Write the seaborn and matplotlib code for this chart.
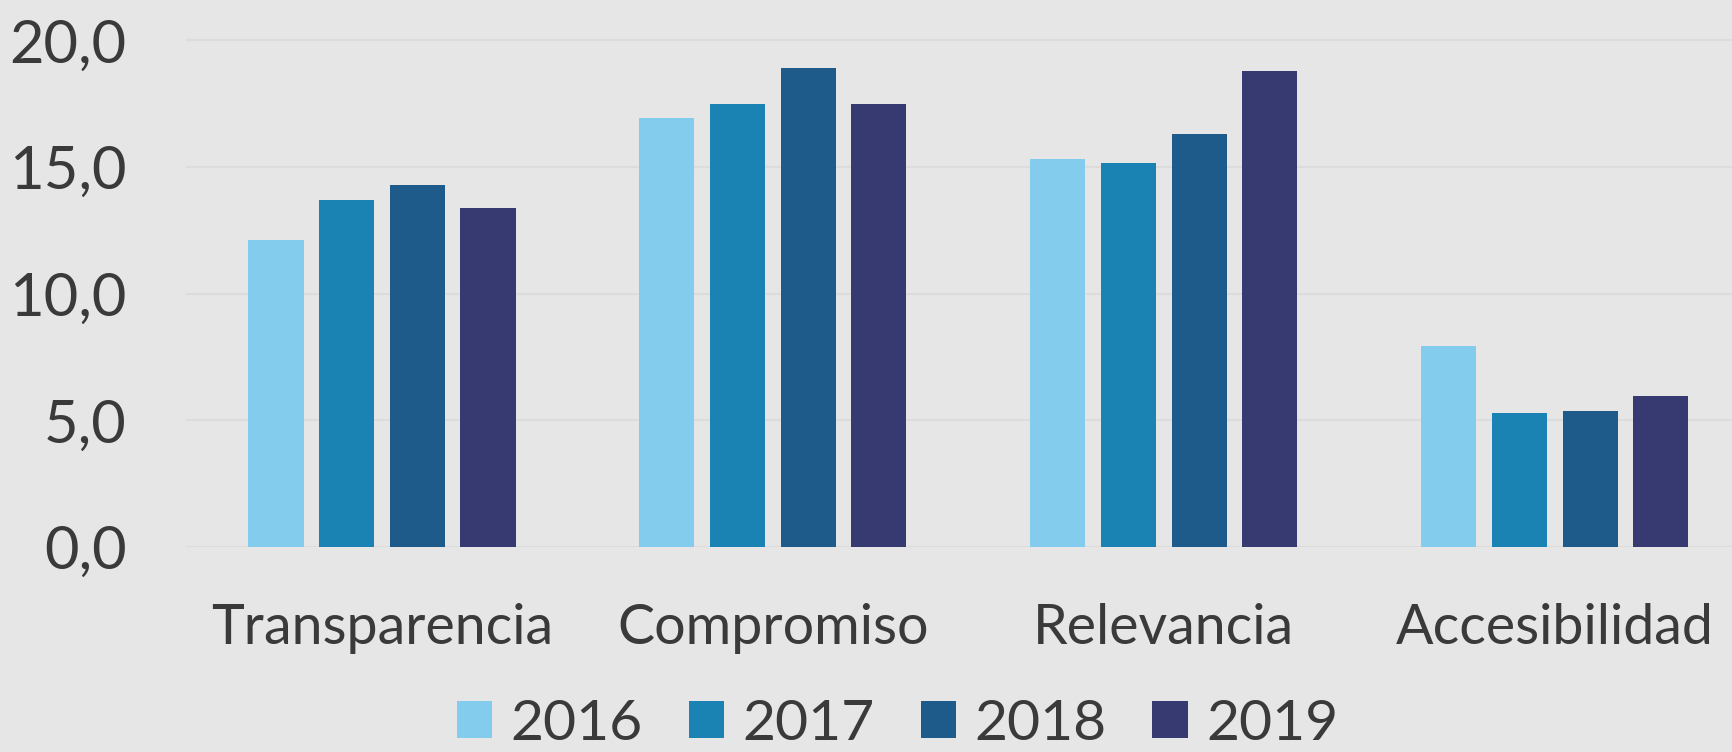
import numpy as np
import pandas as pd
import matplotlib
matplotlib.use('Agg')
import matplotlib.pyplot as plt
import seaborn as sns
from matplotlib.ticker import FuncFormatter

categorias = ['Transparencia', 'Compromiso', 'Relevancia', 'Accesibilidad']
anios = ['2016', '2017', '2018', '2019']
v2016 = [12.1, 16.95, 15.3, 7.95]
v2017 = [13.7, 17.5, 15.15, 5.3]
v2018 = [14.3, 18.9, 16.3, 5.35]
v2019 = [13.4, 17.5, 18.8, 5.95]
colores = ['#83CCED', '#1A83B4', '#1E5A8A', '#363A70']

rows = []
for anio, vals in zip(anios, [v2016, v2017, v2018, v2019]):
    for c, v in zip(categorias, vals):
        rows.append({'categoria': c, 'anio': anio, 'valor': v})
df = pd.DataFrame(rows)

sns.set_theme(style='white')
plt.rcParams['font.family'] = ['Lato', 'DejaVu Sans']
txt = '#3A3A3A'
bg = '#E6E6E6'

fig = plt.figure(figsize=(17.33, 7.52), dpi=100, facecolor=bg)
# axes a bit wider than the figure: the last group is cut at the right edge
ax = fig.add_axes([0.1076, 0.2726, 0.9024, 0.7074])
ax.set_facecolor(bg)

sns.barplot(data=df, x='categoria', y='valor', hue='anio', order=categorias,
            hue_order=anios, palette=colores, width=0.723, gap=0.22,
            saturation=1, linewidth=0, ax=ax, legend=True)

ax.set_xlim(-0.5, 3.5)
ax.set_ylim(0, 21)
ax.set_yticks([0, 5, 10, 15, 20])
ax.yaxis.set_major_formatter(FuncFormatter(lambda v, p: f'{v:.1f}'.replace('.', ',')))
ax.grid(axis='y', color='#DCDCDC', linewidth=1.5)
ax.set_axisbelow(True)
for s in ax.spines.values():
    s.set_visible(False)
ax.axhline(0, color='#D8D8D8', linewidth=2, zorder=0.5)
ax.set_xlabel('')
ax.set_ylabel('')
ax.tick_params(axis='y', length=0, pad=43, labelsize=43, labelcolor=txt)
ax.tick_params(axis='x', length=0, pad=40, labelsize=40, labelcolor=txt)

leg = ax.legend(loc='center', bbox_to_anchor=(0.518, 0.037), bbox_transform=fig.transFigure,
                ncol=4, frameon=False, fontsize=41, handlelength=0.62, handleheight=0.62,
                handletextpad=0.33, columnspacing=0.8, borderpad=0.1)
for t in leg.get_texts():
    t.set_color(txt)

fig.savefig('out.png', dpi=100, facecolor=bg)
